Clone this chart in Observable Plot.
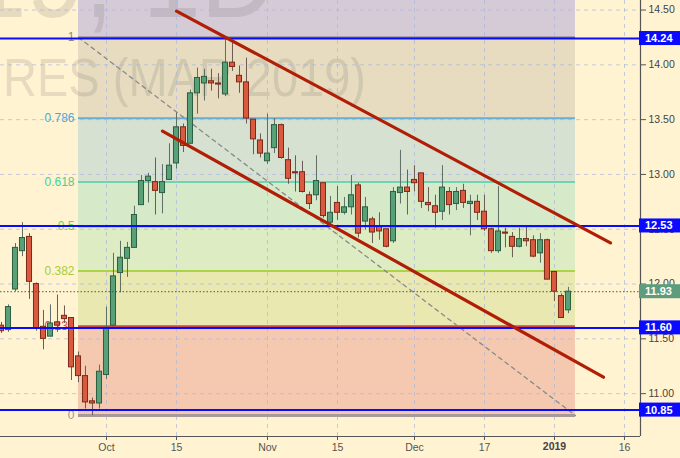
<!DOCTYPE html>
<html><head><meta charset="utf-8">
<script src="https://cdn.jsdelivr.net/npm/d3@7"></script>
<script src="https://cdn.jsdelivr.net/npm/@observablehq/plot@0.6"></script>
<style>
html,body{margin:0;padding:0;background:#fff3d1;}
#chart{width:680px;height:458px;overflow:hidden;}
</style></head><body><div id="chart"></div>
<script>
// ---- data ----
const firstDay = "2018-09-10";
const holidays = ["2018-11-22", "2018-12-25", "2019-01-01"];
const open  = [11.62,11.58,11.95,12.30,12.43,12.00,11.61,11.52,11.65,11.71,11.69,11.34,11.16,10.93,10.91,
  11.17,11.62,12.10,12.23,12.33,12.72,12.94,12.93,12.83,12.95,13.10,13.43,13.28,13.74,13.83,13.85,13.83,13.73,14.02,13.90,13.84,13.50,13.31,
  13.12,13.24,13.45,13.13,13.02,13.02,12.81,12.81,12.92,12.56,12.74,12.65,12.70,12.90,12.57,12.59,12.52,12.50,12.39,12.83,12.88,
  12.95,13.01,12.74,12.71,12.66,12.84,12.73,12.85,12.73,12.75,12.66,12.50,12.30,12.47,12.43,12.34,12.41,12.40,12.28,12.40,
  12.11,11.89,11.76];
const close = [11.57,11.79,12.33,12.42,12.02,11.59,11.50,11.64,11.62,11.68,11.24,11.16,10.92,10.91,11.20,
  11.60,12.07,12.24,12.33,12.63,12.94,12.98,12.85,12.93,13.08,13.43,13.26,13.74,13.88,13.89,13.83,13.82,14.02,13.98,13.84,13.51,13.32,13.19,
  13.19,13.45,13.15,12.96,13.01,12.84,12.73,12.94,12.62,12.65,12.65,12.70,12.81,12.46,12.70,12.47,12.48,12.34,12.84,12.88,12.84,
  12.92,12.75,12.72,12.65,12.88,12.72,12.84,12.74,12.75,12.65,12.50,12.30,12.48,12.46,12.34,12.41,12.39,12.25,12.40,12.04,
  11.93,11.69,11.93];
const high  = [11.65,11.81,12.37,12.56,12.46,12.01,11.76,11.81,11.90,11.80,11.69,11.38,11.25,10.96,11.26,
  11.79,12.28,12.39,12.38,12.71,12.99,13.01,13.15,13.09,13.28,13.56,13.46,13.77,13.97,13.96,13.96,13.92,14.25,14.20,13.99,14.06,13.50,13.37,
  13.55,13.51,13.46,13.24,13.17,13.12,12.84,13.17,12.92,12.80,12.89,12.79,12.99,12.92,12.79,12.61,12.65,12.50,12.88,13.22,13.04,
  13.08,13.01,12.88,12.81,13.08,12.88,12.88,12.91,12.81,12.81,12.81,12.51,12.89,12.51,12.47,12.51,12.52,12.44,12.46,12.41,
  12.11,11.91,11.97];
const low   = [11.55,11.56,11.93,12.25,11.86,11.57,11.40,11.52,11.56,11.64,11.12,11.10,10.86,10.80,10.86,
  11.13,11.59,11.92,12.06,12.33,12.72,12.74,12.63,12.64,12.95,13.05,13.20,13.28,13.55,13.67,13.76,13.69,13.71,13.94,13.74,13.46,13.18,13.15,
  13.09,13.19,13.14,12.91,12.84,12.83,12.68,12.76,12.60,12.53,12.58,12.63,12.63,12.42,12.49,12.37,12.40,12.33,12.37,12.73,12.63,
  12.84,12.69,12.66,12.51,12.58,12.63,12.67,12.69,12.44,12.58,12.48,12.28,12.28,12.33,12.24,12.33,12.34,12.24,12.19,12.04,
  11.84,11.69,11.73];

const yTicks = [11.00, 11.50, 12.00, 12.50, 13.00, 13.50, 14.00, 14.50];
const xTickDates  = ["2018-10-01","2018-10-15","2018-11-01","2018-11-15","2018-12-03","2018-12-17","2019-01-02","2019-01-16"];
const xTickLabels = ["Oct","15","Nov","15","Dec","17","2019","16"];

const fibHigh = 14.25, fibLow = 10.80;
const fibStart = "2018-09-25", fibEnd = "2019-01-07";
const fibLevels = [1, 0.786, 0.618, 0.5, 0.382, 0.236, 0];
const fibLineColors = ["#7a7a7a","#66aed4","#70d4b0","#5ccc5c","#99cc22","#c84a4a","#a69a9a"];
const fibTextColors = ["#8a8a8a","#4fa6d8","#3fd196","#55dd55","#a8cc3a","#e04848","#9a9a9a"];
const fibZoneColors = ["#d5cbd6","#e7dcc0","#d6e1d1","#d6eaca","#ddecc2","#e9e8b0","#f5c9b0"];

const blueLevels = [14.24, 12.53, 11.60, 10.85];
const lastPrice = 11.93;
const upperChannel = [{date:"2018-10-15", value:14.49}, {date:"2019-01-14", value:12.375}];
const lowerChannel = [{date:"2018-10-11", value:13.395}, {date:"2019-01-11", value:11.15}];
const watermark = ["SBH2019, 1D", "FUTURES (MAR 2019)"];

// ---- trading calendar ----
const dates = [];
{
  const d = new Date(firstDay + "T12:00:00Z");
  while (dates.length < 100) {
    const s = d.toISOString().slice(0,10);
    const wd = d.getUTCDay();
    if (wd !== 0 && wd !== 6 && !holidays.includes(s)) dates.push(s);
    d.setUTCDate(d.getUTCDate() + 1);
  }
}
const pos = s => dates.indexOf(s);

const candles = open.map((o, i) => ({p: i, open: o, close: close[i], high: high[i], low: low[i], up: close[i] >= o}));

const fibValue = l => fibLow + l * (fibHigh - fibLow);
const xDomain = [-0.143, 91.29];
const yDomain = [10.609, 14.587];

const zones = fibLevels.map((l, k) => ({
  y1: k === 0 ? yDomain[1] : fibValue(fibLevels[k - 1]),
  y2: fibValue(l),
  fill: fibZoneColors[k]
}));
const fibs = fibLevels.map((l, k) => ({level: l, v: fibValue(l), line: fibLineColors[k], text: fibTextColors[k]}));

const tags = [
  ...blueLevels.map(v => ({value: v, color: "#0a0aff"})),
  {value: lastPrice, color: "#5d9c7c"}
];

const xTicks = xTickDates.map(pos);

const chart = Plot.plot({
  width: 680, height: 458,
  marginLeft: 0, marginRight: 40, marginTop: 0, marginBottom: 22,
  style: {background: "transparent", fontFamily: "'Liberation Sans', Arial, sans-serif", fontSize: "10px", color: "#555"},
  x: {type: "linear", domain: xDomain, axis: null},
  y: {type: "linear", domain: yDomain, axis: null},
  marks: [
    // fib zones
    Plot.rect(zones, {x1: pos(fibStart), x2: pos(fibEnd), y1: "y1", y2: "y2", fill: "fill"}),
    // watermark
    (index, scales, values, dims) => {
      const g = d3.create("svg:g").attr("fill", "#555").attr("fill-opacity", 0.15)
        .attr("font-family", "'Liberation Sans', Arial, sans-serif").attr("text-anchor", "end");
      g.append("text").attr("transform", "translate(276,17) scale(0.87,1)")
        .attr("font-size", 120).text(watermark[0]);
      g.append("text").attr("transform", "translate(366,96) scale(0.87,1)")
        .attr("font-size", 54).text(watermark[1]);
      return g.node();
    },
    // grid
    Plot.gridY(yTicks, {stroke: "#aab6e0", strokeOpacity: 0.7, strokeDasharray: "4,4"}),
    Plot.gridX(xTicks, {stroke: "#aab6e0", strokeOpacity: 0.7, strokeDasharray: "4,4"}),
    // fib level lines + labels
    Plot.ruleY(fibs, {y: "v", x1: pos(fibStart), x2: pos(fibEnd), stroke: "line", strokeWidth: d => d.level === 0 ? 3 : (d.level === 0.382 ? 1.5 : 2)}),
    Plot.text(fibs, {x: pos(fibStart), y: "v", text: d => String(d.level), fill: "text", textAnchor: "end", dx: -4, fontSize: 12}),
    // diagonal fib trend
    Plot.line([{date: fibStart, v: fibHigh}, {date: fibEnd, v: fibLow}], {x: d => pos(d.date), y: "v", stroke: "#8a8a8a", strokeWidth: 1.3, strokeDasharray: "4,4"}),
    // candles
    Plot.ruleX(candles, {x: "p", y1: "low", y2: "high", stroke: d => d.up ? "#5f6e66" : "#6d5a55", strokeWidth: 1, clip: true}),
    Plot.rect(candles, {x1: d => d.p - 0.36, x2: d => d.p + 0.36, y1: "open", y2: "close",
      fill: d => d.up ? "#58a078" : "#d95a3e", stroke: d => d.up ? "#2c5e42" : "#7c2a18", strokeWidth: 1, clip: true}),
    // horizontal levels
    Plot.ruleY([lastPrice], {stroke: "#4b5a52", strokeWidth: 1, strokeDasharray: "1.5,2"}),
    Plot.ruleY(blueLevels, {stroke: "#0a0aff", strokeWidth: 2}),
    // channel
    Plot.line(upperChannel, {x: d => pos(d.date), y: "value", stroke: "#b01e06", strokeWidth: 3.2}),
    Plot.line(lowerChannel, {x: d => pos(d.date), y: "value", stroke: "#b01e06", strokeWidth: 3.2}),
    // axes lines
    Plot.ruleX([xDomain[1]], {stroke: "#555", strokeWidth: 1.2}),
    Plot.ruleY([yDomain[0]], {stroke: "#555", strokeWidth: 1.2}),
    Plot.axisY(yTicks, {anchor: "right", tickSize: 5, tickPadding: 3, tickFormat: d => d.toFixed(2), stroke: "#555", fill: "#444", fontSize: 10.5, label: null}),
    Plot.axisX(xTicks, {anchor: "bottom", tickSize: 4, tickPadding: 3, tickFormat: p => {const l = xTickLabels[xTicks.indexOf(p)]; return l === "2019" ? "" : l;}, stroke: "#555", fill: "#555", fontSize: 10.5, label: null}),
    Plot.text([pos("2019-01-02")], {x: d => d, frameAnchor: "bottom", dy: 13, text: () => "2019", fontWeight: "bold", fill: "#444", fontSize: 10.5}),
    // price tags on right
    (index, scales, values, dims) => {
      const g = d3.create("svg:g");
      const x0 = dims.width - dims.marginRight;
      for (const t of tags) {
        const y = scales.y(t.value);
        g.append("rect").attr("x", x0 - 1).attr("y", y - 7).attr("width", dims.marginRight + 1).attr("height", 14).attr("fill", t.color);
        g.append("text").attr("x", x0 + 5).attr("y", y).attr("dy", "0.36em").attr("fill", "#fff")
          .attr("text-anchor", "start")
          .attr("font-weight", "bold").attr("font-size", 11).attr("font-family", "'Liberation Sans', Arial, sans-serif")
          .text(t.value.toFixed(2));
      }
      return g.node();
    }
  ]
});
document.getElementById("chart").append(chart);
</script>
</body></html>
